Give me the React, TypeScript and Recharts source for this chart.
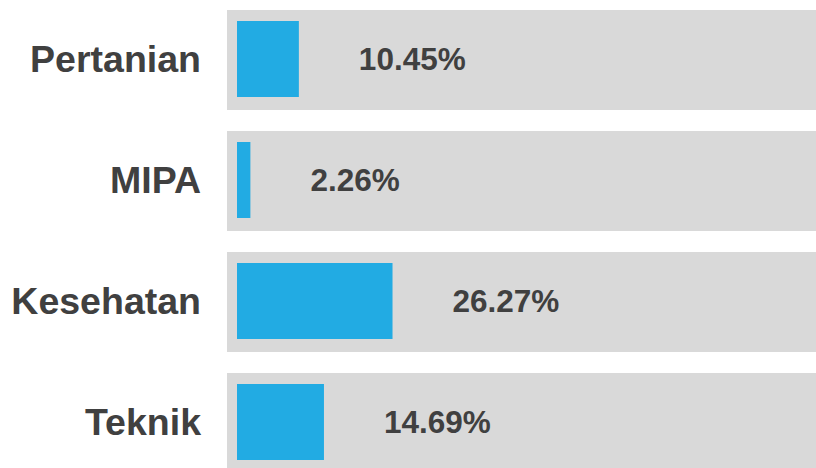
import { BarChart, Bar, XAxis, YAxis, LabelList } from "recharts";

const categories = ["Pertanian", "MIPA", "Kesehatan", "Teknik"];
const shares = [10.45, 2.26, 26.27, 14.69];

const data = categories.map((name, i) => ({ name, share: shares[i] }));

const TEXT = "#404040";

// grey track behind each bar, a bit taller and starting slightly left of the bar
function Track(props: any) {
  const { x, y, width, height } = props;
  return (
    <rect
      x={x - 10}
      y={y - 11}
      width={width + 10}
      height={height + 24}
      fill="#d9d9d9"
    />
  );
}

export default function App() {
  return (
    <div
      style={{
        position: "absolute",
        left: 0,
        top: 0,
        width: 816,
        height: 468,
        overflow: "hidden",
        background: "#fff",
        fontFamily: "'Liberation Sans', Arial, sans-serif",
      }}
    >
      <div style={{ position: "relative", top: -2 }}>
        <BarChart
          width={829}
          height={484}
          data={data}
          layout="vertical"
          barSize={76}
          margin={{ top: 0, right: 0, bottom: 0, left: 0 }}
        >
          <XAxis type="number" domain={[0, 100]} hide />
          <YAxis
            type="category"
            dataKey="name"
            width={237}
            axisLine={false}
            tickLine={false}
            tickSize={0}
            tickMargin={36}
            tick={{ fill: TEXT, fontSize: 37.5, fontWeight: 700 }}
          />
          <Bar
            dataKey="share"
            fill="#22abe3"
            background={(p: any) => <Track key={`bg-${p.index}`} {...p} />}
            isAnimationActive={false}
          >
            <LabelList
              dataKey="share"
              position="right"
              offset={60}
              formatter={(v: any) => `${Number(v).toFixed(2)}%`}
              style={{ fill: TEXT, fontSize: 31.5, fontWeight: 700 }}
            />
          </Bar>
        </BarChart>
      </div>
    </div>
  );
}
